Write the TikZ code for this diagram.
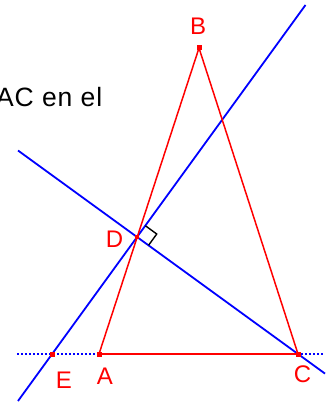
\documentclass[tikz,border=0pt]{standalone}
\usepackage{fontspec}
\setmainfont{Liberation Sans}
\usetikzlibrary{calc}
\begin{document}
\begin{tikzpicture}[x=1pt,y=-1pt,
  redline/.style={draw=red,line width=1.5pt},
  blueline/.style={draw=blue,line width=1.8pt},
  dotline/.style={draw=blue,line width=1.8pt,dash pattern=on 1.8pt off 2.2pt},
  ptmark/.style={rectangle,fill=red,inner sep=0pt,minimum size=5pt},
  lbl/.style={text=red,font=\fontsize{24}{24}\selectfont,inner sep=0pt},
  txt/.style={text=black,font=\fontsize{26.5}{26.5}\selectfont\addfontfeature{LetterSpace=3.5},inner sep=0pt}]
\useasboundingbox (0,0) rectangle (333,403);
\clip (0,0) rectangle (333,403);
\coordinate (A) at (99,354);
\coordinate (B) at (199,48);
\coordinate (C) at (298,354);
\coordinate (E) at (52,354);
\coordinate (D) at (137.2,237.1);
\coordinate (L1a) at (18,150.5);
\coordinate (L1b) at (325,373.6);
\coordinate (L2a) at (18,401);
\coordinate (L2b) at (305.5,5);
\coordinate (H1) at (17,354);
\coordinate (H2) at (323,354);
% dotted horizontal line
\draw[dotline] (H1) -- (H2);
% blue lines
\draw[blueline] (L1a) -- (L1b);
\draw[blueline] (L2a) -- (L2b);
% right angle mark
\coordinate (R1) at ($(D)!14pt!(L2b)$);
\coordinate (R2) at ($(D)!14pt!(C)$);
\coordinate (R3) at ($(R1)+(R2)-(D)$);
\draw[black,line width=1.4pt] (R1) -- (R3) -- (R2);
% triangle
\draw[redline] (A) -- (B) -- (C);
\draw[draw=red,line width=2pt] (A) -- (C);
% points
\node[ptmark] (pA) at (A) {};
\node[ptmark] (pB) at (B) {};
\node[ptmark] (pC) at (C) {};
\node[ptmark] (pE) at (E) {};
\node[ptmark,minimum size=3.5pt] (pD) at (D) {};
% labels
\node[lbl] (tB) at (198,26.5) {B};
\node[lbl] (tD) at (114.5,239) {D};
\node[lbl] (tE) at (64,380) {E};
\node[lbl] (tA) at (105,376.5) {A};
\node[lbl] (tC) at (302.5,374.5) {C};
\node[txt,anchor=base east] (t1) at (102.5,106.5) {AC en el};
\end{tikzpicture}
\end{document}
